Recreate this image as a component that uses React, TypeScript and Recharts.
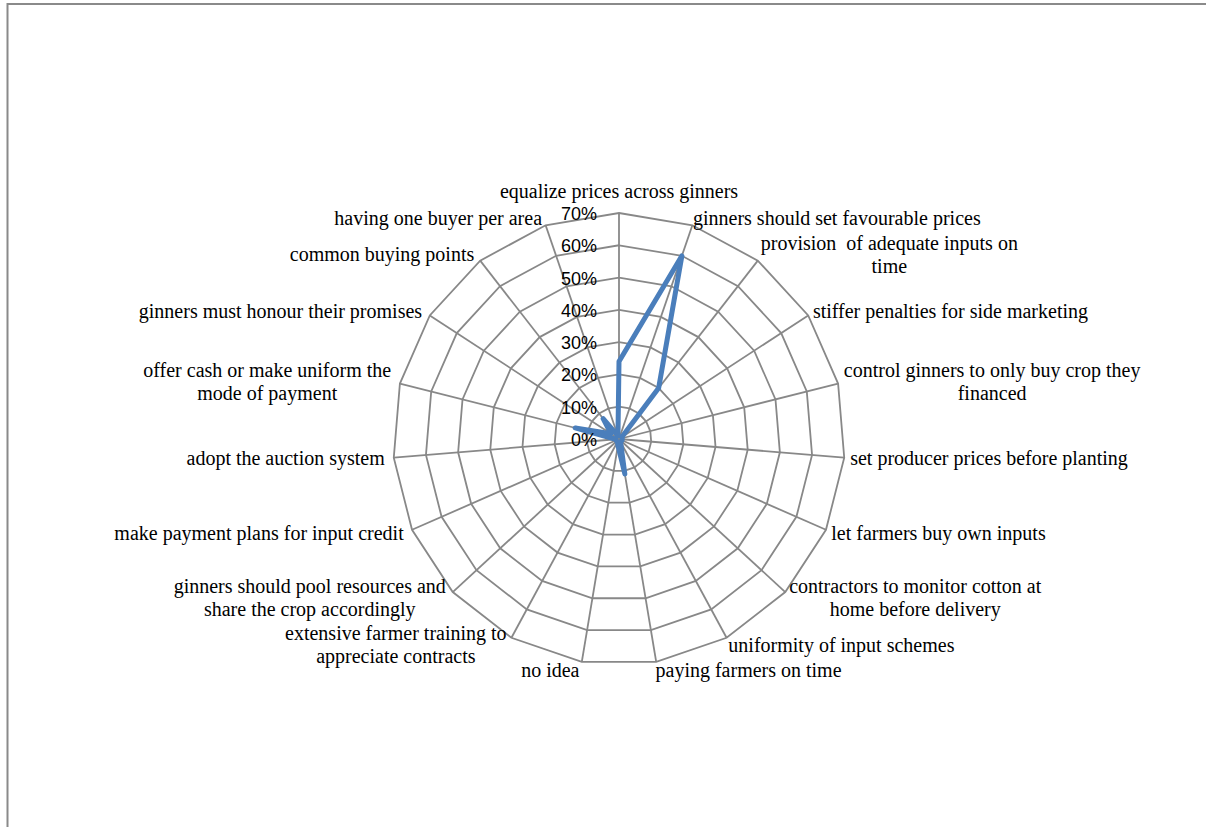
import React from 'react';
import { RadarChart, Radar, PolarGrid, PolarAngleAxis, PolarRadiusAxis } from 'recharts';

const categories = [
  'equalize prices across ginners',
  'ginners should set favourable prices',
  'provision  of adequate inputs on time',
  'stiffer penalties for side marketing',
  'control ginners to only buy crop they financed',
  'set producer prices before planting',
  'let farmers buy own inputs',
  'contractors to monitor cotton at home before delivery',
  'uniformity of input schemes',
  'paying farmers on time',
  'no idea',
  'extensive farmer training to appreciate contracts',
  'ginners should pool resources and share the crop accordingly',
  'make payment plans for input credit',
  'adopt the auction system',
  'offer cash or make uniform the mode of payment',
  'ginners must honour their promises',
  'common buying points',
  'having one buyer per area',
];

const values = [24, 60, 20, 1, 1, 1, 1, 1, 1, 11, 2, 1, 1, 1, 1, 14, 3, 8, 1];

const labelLines: string[][] = [
  ['equalize prices across ginners'],
  ['ginners should set favourable prices'],
  ['provision  of adequate inputs on', 'time'],
  ['stiffer penalties for side marketing'],
  ['control ginners to only buy crop they', 'financed'],
  ['set producer prices before planting'],
  ['let farmers buy own inputs'],
  ['contractors to monitor cotton at', 'home before delivery'],
  ['uniformity of input schemes'],
  ['paying farmers on time'],
  ['no idea'],
  ['extensive farmer training to', 'appreciate contracts'],
  ['ginners should pool resources and', 'share the crop accordingly'],
  ['make payment plans for input credit'],
  ['adopt the auction system'],
  ['offer cash or make uniform the', 'mode of payment'],
  ['ginners must honour their promises'],
  ['common buying points'],
  ['having one buyer per area'],
];

const radiusDomain: [number, number] = [0, 70];

const data = categories.map((c, i) => ({ category: c, value: values[i] }));

const LABEL_FONT = '"Liberation Serif", "Times New Roman", serif';
let ctx: CanvasRenderingContext2D | null = null;
function measure(text: string): number {
  if (!ctx) ctx = document.createElement('canvas').getContext('2d');
  if (!ctx) return text.length * 9;
  ctx.font = '20px "Liberation Serif"';
  return ctx.measureText(text).width;
}

const AngleTick = (props: any) => {
  const { x, y, payload, textAnchor } = props;
  const idx = categories.indexOf(payload.value);
  const lines = idx >= 0 ? labelLines[idx] : [String(payload.value)];
  const n = lines.length;
  const common = {
    fontFamily: LABEL_FONT,
    fontSize: 20,
    fill: '#000',
    style: { whiteSpace: 'pre' as const },
  };
  if (textAnchor === 'middle') {
    return (
      <text x={x} y={y - 7} textAnchor="middle" {...common}>
        {lines[0]}
      </text>
    );
  }
  const w = Math.max(...lines.map(measure));
  const ax = textAnchor === 'start' ? x - 2 : x - 1;
  const center = textAnchor === 'start' ? ax + w / 2 : ax - w / 2;
  return (
    <g>
      {lines.map((l, k) => (
        <text
          key={k}
          x={n === 1 ? ax : center}
          y={y + 7 + (k - (n - 1) / 2) * 23}
          textAnchor={n === 1 ? textAnchor : 'middle'}
          {...common}
        >
          {l}
        </text>
      ))}
    </g>
  );
};

const RadiusTick = (props: any) => {
  const { x, y, payload } = props;
  return (
    <text
      x={x - 22}
      y={y + 7}
      textAnchor="end"
      fontFamily='"Liberation Sans", Arial, sans-serif'
      fontSize={18}
      fill="#000"
    >
      {`${payload.value}%`}
    </text>
  );
};

export default function App() {
  return (
    <div style={{ position: 'absolute', left: 0, top: 0, width: 1206, height: 827, background: '#fff', overflow: 'hidden' }}>
      <svg width={1206} height={827} style={{ position: 'absolute', left: 0, top: 0 }}>
        <line x1={7} y1={4} x2={1206} y2={4} stroke="#8a8a8a" strokeWidth={2} />
        <line x1={7.5} y1={3} x2={7.5} y2={827} stroke="#8a8a8a" strokeWidth={2} />
      </svg>
      <div style={{ position: 'absolute', left: 0, top: 0 }}>
        <RadarChart
          width={1206}
          height={827}
          data={data}
          cx={619}
          cy={439}
          outerRadius={226}
          margin={{ top: 0, right: 0, bottom: 0, left: 0 }}
        >
          <PolarGrid gridType="polygon" stroke="#888888" strokeWidth={1.8} />
          <PolarAngleAxis dataKey="category" tick={AngleTick} tickLine={false} axisLine={false} />
          <PolarRadiusAxis
            angle={90}
            domain={radiusDomain}
            tickCount={8}
            type="number"
            axisLine={false}
            tickLine={false}
            tick={RadiusTick}
          />
          <Radar
            dataKey="value"
            stroke="#4A7EBB"
            strokeWidth={5}
            strokeLinejoin="round"
            fill="none"
            fillOpacity={0}
            dot={false}
            isAnimationActive={false}
          />
        </RadarChart>
      </div>
    </div>
  );
}
